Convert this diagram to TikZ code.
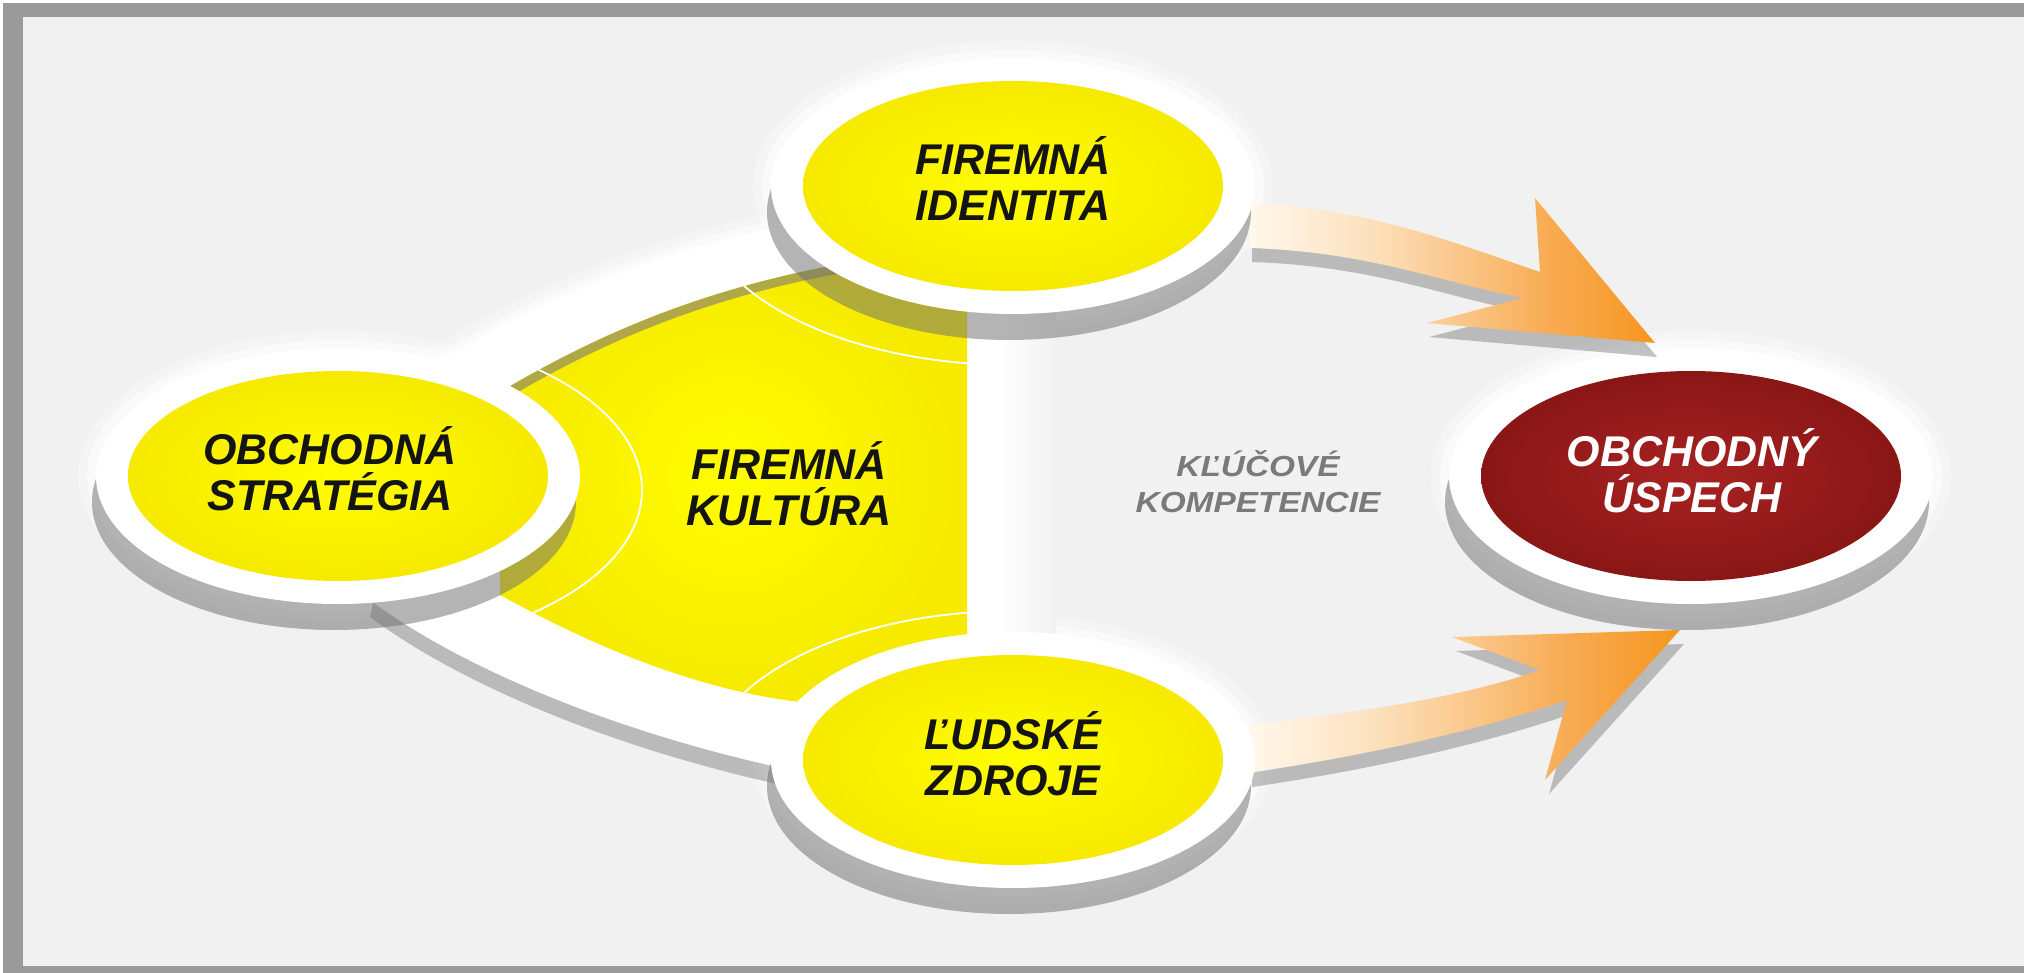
\documentclass[tikz,border=0pt]{standalone}
\usepackage{fontspec}
\setmainfont{Liberation Sans}
\usetikzlibrary{shapes.geometric,calc}
\definecolor{bgc}{HTML}{F1F1F1}
\definecolor{framec}{HTML}{9A9A9A}
\definecolor{ylwin}{HTML}{FFFD00}
\definecolor{ylwout}{HTML}{F6EA00}
\definecolor{redin}{HTML}{A82222}
\definecolor{redout}{HTML}{8A1616}
\definecolor{shdc}{HTML}{707070}
\definecolor{olivec}{HTML}{B0A848}
\definecolor{arrL}{HTML}{FFF8EC}
\definecolor{arrMa}{HTML}{FCE0BC}
\definecolor{arrMb}{HTML}{FAC484}
\definecolor{arrMc}{HTML}{F8AB52}
\definecolor{arrT}{HTML}{F6961F}
\definecolor{txtgray}{HTML}{7A7A7A}
\pgfdeclarehorizontalshading{arrowshade}{100bp}{color(0bp)=(arrL); color(25bp)=(arrL); color(40bp)=(arrMa); color(52bp)=(arrMb); color(62bp)=(arrMc); color(75bp)=(arrT); color(100bp)=(arrT)}
\tikzset{
  disc/.style={ellipse, inner sep=0pt, minimum width=420pt, minimum height=210pt},
  ydisc/.style={disc, inner color=ylwin, outer color=ylwout},
  rdisc/.style={disc, inner color=redin, outer color=redout},
  lbl/.style={font=\fontsize{43}{46}\selectfont\bfseries\itshape, align=center, inner sep=0pt, text=black!92},
  sidesh/.style={fill=shdc, fill opacity=0.52},
  arrsh/.style={fill=shdc, fill opacity=0.42},
  glowa/.style={fill=white, opacity=0.35},
  glowb/.style={fill=white, opacity=0.55},
}
\newcommand\discglow[2]{%
  \fill[glowa] (#1,#2) ellipse [x radius=260pt, y radius=145pt];
  \fill[glowb] (#1,#2) ellipse [x radius=251pt, y radius=136pt];
}
\newcommand\discbase[2]{%
  \fill[sidesh] (#1-4,#2+26) ellipse [x radius=242pt, y radius=128pt];
  \fill[white] (#1,#2) ellipse [x radius=242pt, y radius=128pt];
}
\begin{document}
\begin{tikzpicture}[x=1pt,y=-1pt]
\useasboundingbox (0,0) rectangle (2024,973);
% frame and background
\fill[white] (0,0) rectangle (2024,973);
\fill[framec] (3,3) rectangle (2024,973);
\fill[bgc] (23,17) rectangle (2024,966);

% soft glows behind the discs
\discglow{338}{476}
\discglow{1013}{186}
\discglow{1013}{760}
\discglow{1691}{476}

% central ring
\fill[arrsh, shift={(0,17)}] (420,372) .. controls (530,305) and (650,250) .. (790,225) -- (1000,225) -- (1000,795) -- (800,772) .. controls (600,730) and (450,660) .. (370,600) -- cycle;
\draw[white, line width=30, opacity=0.3, line cap=round] (420,372) .. controls (530,305) and (650,250) .. (790,225) -- (1000,225);
\draw[white, line width=14, opacity=0.5, line cap=round] (420,372) .. controls (530,305) and (650,250) .. (790,225) -- (1000,225);
\fill[white] (420,372) .. controls (530,305) and (650,250) .. (790,225) -- (1000,225) -- (1000,795) -- (800,772) .. controls (600,730) and (450,660) .. (370,600) -- cycle;
\shade[left color=white, right color=bgc] (1000,300) rectangle (1056,660);

% yellow centre (FIREMNA KULTURA)
\shade[inner color=ylwin, outer color=ylwout] (500,392) .. controls (580,345) and (680,295) .. (830,266) -- (967,250) -- (967,700) -- (800,702) .. controls (700,690) and (600,650) .. (500,595) -- cycle;
\begin{scope}
\clip (500,392) .. controls (580,345) and (680,295) .. (830,266) -- (967,250) -- (967,700) -- (800,702) .. controls (700,690) and (600,650) .. (500,595) -- cycle;
\draw[olivec, line width=18] (500,392) .. controls (580,345) and (680,295) .. (830,266) -- (967,250);
\draw[white, line width=1.8] (338,490) ellipse [x radius=304pt, y radius=160pt];
\draw[white, line width=1.8] (1013,200) ellipse [x radius=315pt, y radius=165pt];
\draw[white, line width=1.8] (1013,774) ellipse [x radius=310pt, y radius=163pt];
\end{scope}

% left disc and result disc
\discbase{338}{476}
\node[ydisc] (os) at (338,476) {};
\discbase{1691}{476}
\node[rdisc] (ou) at (1691,476) {};

% arrow shadows
\fill[arrsh, shift={(2,14)}] (1250,203) .. controls (1370,208) and (1460,245) .. (1540,272) -- (1535,198) -- (1655,343) -- (1427,323) -- (1523,298) .. controls (1440,282) and (1370,252) .. (1250,248) -- cycle;
\fill[arrsh, shift={(4,14)}] (1248,725) .. controls (1360,712) and (1460,698) .. (1540,670) -- (1452,637) -- (1680,630) -- (1545,780) -- (1567,700) .. controls (1480,730) and (1370,755) .. (1248,773) -- cycle;
% arrows
\shade[shading=arrowshade] (1250,203) .. controls (1370,208) and (1460,245) .. (1540,272) -- (1535,198) -- (1655,343) -- (1427,323) -- (1523,298) .. controls (1440,282) and (1370,252) .. (1250,248) -- cycle;
\shade[shading=arrowshade] (1248,725) .. controls (1360,712) and (1460,698) .. (1540,670) -- (1452,637) -- (1680,630) -- (1545,780) -- (1567,700) .. controls (1480,730) and (1370,755) .. (1248,773) -- cycle;

% top and bottom discs
\discbase{1013}{186}
\node[ydisc] (fi) at (1013,186) {};
\discbase{1013}{760}
\node[ydisc] (lz) at (1013,760) {};

% labels
\node[lbl] (t-os) at (330,469) {OBCHODNÁ\\STRATÉGIA};
\node[lbl] (t-fk) at (789,484) {FIREMNÁ\\KULTÚRA};
\node[lbl] (t-fi) at (1013,179) {FIREMNÁ\\IDENTITA};
\node[lbl] (t-lz) at (1013,754) {ĽUDSKÉ\\ZDROJE};
\node[lbl, text=white] (t-ou) at (1692,471) {OBCHODNÝ\\ÚSPECH};
\node[font=\fontsize{29}{36}\selectfont\bfseries\itshape, align=center, inner sep=0pt, text=txtgray] (t-kk) at (1258,482) {\scalebox{1.15}[1]{KĽÚČOVÉ}\\\scalebox{1.15}[1]{KOMPETENCIE}};
\end{tikzpicture}
\end{document}
